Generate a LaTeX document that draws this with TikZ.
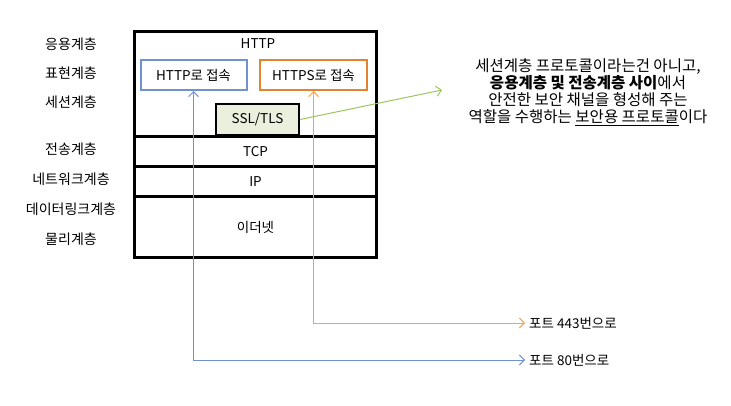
\documentclass[tikz,border=0pt]{standalone}
\usepackage{fontspec}
\setmainfont{Noto Sans CJK KR}
\usepackage{xcolor}
\usetikzlibrary{arrows.meta}
\usetikzlibrary{positioning}

\definecolor{httpblue}{HTML}{7092D0}
\definecolor{httpsorange}{HTML}{E4822E}
\definecolor{portorange}{HTML}{F2A352}
\definecolor{sslgreen}{HTML}{9BC65C}
\definecolor{sslfill}{HTML}{EBF0DE}

\begin{document}
\begin{tikzpicture}[
  x=1pt, y=-1pt,
  every node/.style={font=\fontsize{13.5}{15}\selectfont, inner sep=2pt},
  layer/.style={draw, line width=3pt, minimum width=242pt, anchor=north west},
  linkbox/.style={draw, line width=2pt, minimum width=106pt, minimum height=30pt},
  layername/.style={font=\fontsize{14}{15}\selectfont},
]
\tikzset{>={Straight Barb[length=5pt, width=10pt]}}
\useasboundingbox (0,0) rectangle (731,406);

  % Layer names
  \node[layername] (app)  at (71, 44)  {응용계층};
  \node[layername] (pres) at (71, 73)  {표현계층};
  \node[layername] (sess) at (71, 102) {세션계층};
  \node[layername] (trn)  at (71, 149) {전송계층};
  \node[layername] (net)  at (71, 179) {네트워크계층};
  \node[layername] (dl)   at (71, 209) {데이터링크계층};
  \node[layername] (phy)  at (71, 239) {물리계층};

  % Stack
  \node[layer, minimum height=105pt] (top) at (133, 30) {};
  \node[layer, minimum height=30pt]  (tcp) at (133, 135) {TCP};
  \node[layer, minimum height=30pt]  (ip)  at (133, 165) {IP};
  \node[layer, minimum height=61pt]  (eth) at (133, 195) {이더넷};
  \node (http) at (258, 44) {HTTP};
  \node[linkbox, draw=httpblue] (plain) at (193.5, 75) {HTTP로 접속};
  \node[linkbox, draw=httpsorange, minimum width=107pt] (secure) at (313.5, 75) {HTTPS로 접속};
  \node[draw, line width=2pt, fill=sslfill, minimum width=83pt, minimum height=31pt]
    (ssl) at (257.5, 119.5) {SSL/TLS};

  % Notes
  \node[align=center, font=\fontsize{15.5}{17}\selectfont] (note) at (588, 92)
    {세션계층 프로토콜이라는건 아니고,\\
     \textbf{응용계층 및 전송계층 사이}에서\\
     안전한 보안 채널을 형성해 주는\\
     역할을 수행하는 \underline{보안용 프로토콜}이다};
  \coordinate (tip) at (442, 90);
  \node[anchor=west, inner sep=4pt] (p443) at (525, 323) {포트 443번으로};
  \node[anchor=west, inner sep=4pt] (p80)  at (525, 360) {포트 80번으로};

  % Edges
  \draw[->, sslgreen, line width=1pt] (ssl.east) -- (tip);
  \draw[<->, portorange, line width=1pt] (secure.south) |- (p443.west);
  \draw[<->, httpblue, line width=1pt] (plain.south) |- (p80.west);
\end{tikzpicture}
\end{document}
